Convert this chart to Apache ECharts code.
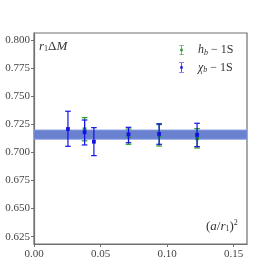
<!DOCTYPE html>
<html><head><meta charset="utf-8">
<script src="https://cdn.jsdelivr.net/npm/echarts@6/dist/echarts.min.js"></script>
<style>html,body{margin:0;padding:0;background:#fff}#c{width:274px;height:274px}</style>
</head><body><div id="c"></div>
<script>
const xBlue=[0.0255,0.038,0.045,0.071,0.094,0.1225];
const yBlue=[0.7208,0.7179,0.7095,0.7161,0.7164,0.7155];
const loBlue=[0.7054,0.7066,0.6971,0.7086,0.7072,0.7051];
const hiBlue=[0.7366,0.7288,0.7220,0.7223,0.7255,0.7259];
const xGreen=[0.038,0.071,0.094,0.1225];
const yGreen=[0.7206,0.7140,0.7152,0.7125];
const loGreen=[0.7103,0.7072,0.7057,0.7039];
const hiGreen=[0.7309,0.7208,0.7247,0.7211];
const band=[0.7117,0.7199];
const xTicks=[0,0.05,0.10,0.15];
const yTicks=[0.625,0.650,0.675,0.700,0.725,0.750,0.775,0.800];

const FONT='Liberation Serif';
const BLUE='#1212e6', GREEN='#2a9a2a';
function rows(xs,ys,lo,hi){return xs.map((x,i)=>[x,ys[i],lo[i],hi[i]]);}
function errRender(color){
  return function(params,api){
    const x=api.value(0),y=api.value(1),lo=api.value(2),hi=api.value(3);
    const pLo=api.coord([x,lo]),pHi=api.coord([x,hi]),p=api.coord([x,y]);
    const cw=2.8,s=1.9;
    const st={stroke:color,lineWidth:1.2};
    return {type:'group',children:[
      {type:'line',shape:{x1:pLo[0],y1:pLo[1],x2:pHi[0],y2:pHi[1]},style:st},
      {type:'line',shape:{x1:pHi[0]-cw,y1:pHi[1],x2:pHi[0]+cw,y2:pHi[1]},style:st},
      {type:'line',shape:{x1:pLo[0]-cw,y1:pLo[1],x2:pLo[0]+cw,y2:pLo[1]},style:st},
      {type:'rect',shape:{x:p[0]-s,y:p[1]-s,width:2*s,height:2*s},style:{fill:color}}
    ]};
  };
}
const icon='path://M0,0H10V1.2H0ZM4.3,0H5.7V20H4.3ZM0,18.8H10V20H0ZM2.5,7.5H7.5V12.5H2.5Z';
const chart=echarts.init(document.getElementById('c'),null,{renderer:'canvas'});
const axisCol='#707070';
chart.setOption({
  animation:false,
  grid:{left:34,top:33,right:27,bottom:30,show:true,borderColor:axisCol,borderWidth:1.2},
  legend:{orient:'vertical',left:174,top:39,itemWidth:5,itemHeight:11,itemGap:5,
    data:[{name:'hb',icon:icon},{name:'chib',icon:icon}],
    formatter:function(n){return n==='hb'?'{i|h}{s|b}{t| − 1S}':'{i|χ}{s|b}{t| − 1S}';},
    textStyle:{fontFamily:FONT,fontSize:12,color:'#333',padding:[0,0,0,9],
      rich:{i:{fontFamily:FONT,fontStyle:'italic',fontSize:12,color:'#333'},
            s:{fontFamily:FONT,fontStyle:'italic',fontSize:8,color:'#333',padding:[5,0,0,0]},
            t:{fontFamily:FONT,fontSize:12,color:'#333'}}}},
  xAxis:{type:'value',min:0,max:0.16,
    axisLine:{show:true,lineStyle:{color:axisCol,width:1.2}},
    axisTick:{show:true,length:3,lineStyle:{color:axisCol},customValues:xTicks},
    axisLabel:{customValues:xTicks,formatter:v=>v.toFixed(2),fontFamily:FONT,fontSize:11,color:'#444',margin:5},
    splitLine:{show:false}},
  yAxis:{type:'value',min:0.6185,max:0.8062,
    axisLine:{show:true,lineStyle:{color:axisCol,width:1.2}},
    axisTick:{show:true,length:3,lineStyle:{color:axisCol},customValues:yTicks},
    axisLabel:{customValues:yTicks,formatter:v=>v.toFixed(3),fontFamily:FONT,fontSize:11,color:'#444',margin:4},
    splitLine:{show:false}},
  series:[
    {type:'line',data:[],silent:true,
      markArea:{silent:true,itemStyle:{color:'rgba(84,112,200,0.88)',borderColor:'rgba(140,160,230,0.9)',borderWidth:1},
        data:[[{yAxis:band[0],xAxis:0},{yAxis:band[1],xAxis:0.16}]]}},
    {name:'hb',type:'custom',color:GREEN,itemStyle:{color:GREEN},renderItem:errRender(GREEN),
      data:rows(xGreen,yGreen,loGreen,hiGreen),encode:{x:0,y:[1,2,3]},z:3},
    {name:'chib',type:'custom',color:BLUE,itemStyle:{color:BLUE},renderItem:errRender(BLUE),
      data:rows(xBlue,yBlue,loBlue,hiBlue),encode:{x:0,y:[1,2,3]},z:4}
  ],
  graphic:[
    {type:'text',left:39,top:40,style:{text:'{i|r}{s|1}{t|Δ}{i|M}',fontFamily:FONT,fontSize:13,fill:'#333',
      rich:{i:{fontFamily:FONT,fontStyle:'italic',fontSize:13},s:{fontFamily:FONT,fontSize:8,padding:[5,0,0,0]},t:{fontFamily:FONT,fontSize:13}}}},
    {type:'text',left:206,top:219,style:{text:'{t|(}{i|a}{t|/}{i|r}{s|1}{t|)}{p|2}',fontFamily:FONT,fontSize:13,fill:'#333',
      rich:{i:{fontFamily:FONT,fontStyle:'italic',fontSize:13},s:{fontFamily:FONT,fontSize:8,padding:[5,0,0,0]},t:{fontFamily:FONT,fontSize:13},p:{fontFamily:FONT,fontSize:8,padding:[0,0,7,0]}}}}
  ]
});
</script></body></html>
